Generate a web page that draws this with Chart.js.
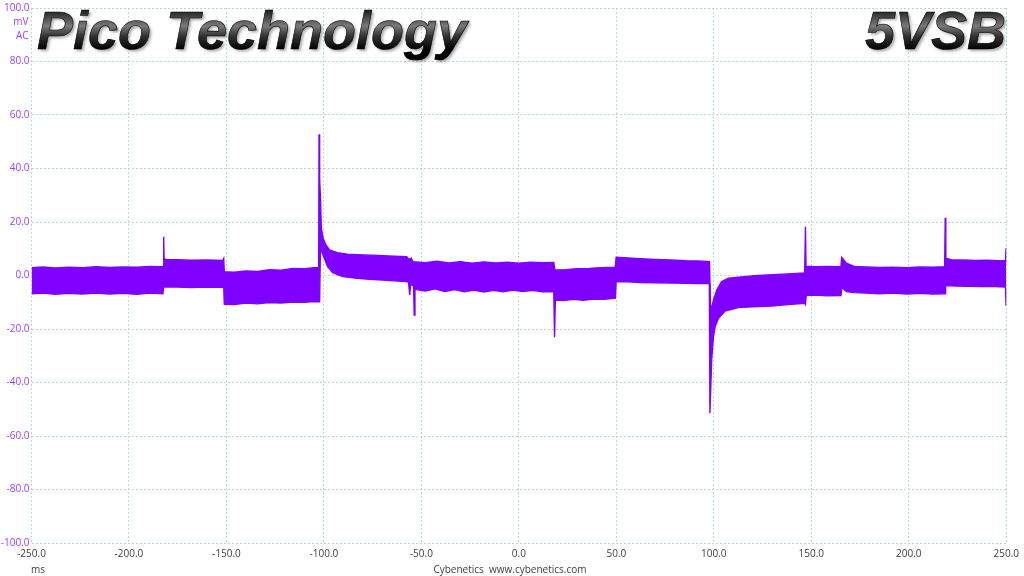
<!DOCTYPE html>
<html><head><meta charset="utf-8">
<script src="https://cdn.jsdelivr.net/npm/chart.js@4/dist/chart.umd.min.js"></script>
<style>html,body{margin:0;padding:0;background:#fff;overflow:hidden}canvas{display:block}</style>
</head><body>
<canvas id="c" width="1024" height="576"></canvas>
<script>
// ---- data (time in ms, voltage ripple in mV) ----
const upperTime = [-250,-244,-238,-231,-224,-217,-210,-203,-196,-189,-183.0,-182.4,-182.2,-182.0,-181.6,-175,-168,-160,-152.0,-151.4,-151.1,-146,-140,-134,-128,-122,-116,-110,-105,-102.7,-102.5,-102.2,-101.8,-101.3,-100.4,-99.0,-97.0,-93.0,-88.0,-80.0,-72,-64,-57.5,-56.5,-55.2,-54.4,-48,-42,-36,-30,-24,-18,-12,-6,0,6,12,17.9,18.5,24,30,36,42,49.4,49.9,56,62,70,78,86,92,97.8,98.3,99.8,101.5,104.0,107.5,114,121,130,138,146.6,147.0,147.3,152,158,165.2,165.6,168,172,178,185,192,199,206,212,218.4,218.7,219.0,222,228,234,240,246,249.6,249.9,250];
const upperMv = [2.9,3.2,2.8,3.1,2.9,3.3,3.0,3.2,3.1,3.4,3.3,3.5,14.5,6.5,6.0,5.9,5.7,5.8,5.6,6.4,1.4,1.2,1.7,1.5,2.2,2.0,2.6,2.5,2.9,2.9,52.8,36.0,29.5,17.6,13.9,11.4,9.5,8.5,8.0,7.7,7.5,7.2,7.0,6.0,6.5,5.2,4.8,5.3,4.7,5.2,4.6,5.1,4.7,5.0,4.6,5.0,4.8,4.9,2.1,2.2,2.5,2.6,2.9,3.1,6.8,6.6,6.3,6.0,5.8,5.5,5.4,5.2,-13.5,-9.2,-5.4,-2.3,-1.0,-0.5,-0.1,0.3,0.6,1.0,18.2,3.5,3.3,3.4,3.3,6.8,4.6,3.4,3.2,3.0,3.1,2.9,3.2,3.1,3.3,21.6,6.5,5.8,5.8,5.6,5.7,5.5,5.5,10.2,4.0];
const lowerTime = [-250,-244,-238,-231,-224,-217,-210,-203,-196,-189,-182.6,-182.2,-175,-168,-160,-151.4,-151.1,-146,-140,-134,-128,-122,-116,-110,-105,-102.2,-101.8,-99.8,-98.1,-95.5,-90.4,-84,-78.5,-70,-64,-58,-56.6,-56.0,-55.5,-54.0,-53.7,-53.3,-48,-43,-38,-33,-28,-23,-18,-13,-8,-3,2,7,12,17.9,18.3,18.7,23,28,33,38,44,49.5,49.9,56,62,70,78,86,92,97.7,98.0,98.9,99.8,100.7,102.4,105.8,112.6,120,129.6,138,146.7,147.0,147.4,152,158,165.2,165.7,168,172,178,185,192,199,206,212,218.6,218.9,224,230,236,242,249.6,249.9,250];
const lowerMv = [-6.8,-6.6,-7.0,-6.7,-6.9,-6.6,-6.9,-6.7,-7.0,-6.6,-6.8,-4.2,-4.3,-4.5,-4.3,-4.4,-10.8,-10.9,-10.3,-10.6,-10.1,-10.3,-9.9,-10.0,-9.7,-9.8,10.2,6.4,3.3,1.1,-0.4,-1.0,-1.3,-1.7,-2.0,-2.3,-2.5,-7.3,-3.2,-4.0,-14.8,-5.2,-5.8,-5.0,-6.0,-5.3,-6.1,-5.4,-6.2,-5.5,-6.1,-5.4,-6.0,-5.5,-6.1,-6.0,-23.1,-9.2,-9.4,-8.9,-9.3,-8.8,-8.9,-8.5,-2.3,-2.4,-2.6,-2.7,-2.8,-2.9,-3.0,-3.0,-51.5,-31.6,-22.9,-19.1,-16.0,-13.3,-12.0,-11.7,-11.4,-10.9,-10.4,-10.8,-7.5,-7.3,-7.6,-7.5,-4.5,-6.0,-6.4,-6.6,-6.8,-6.6,-6.9,-6.7,-6.9,-6.8,-3.8,-3.9,-4.0,-4.1,-4.0,-4.3,-11.0,-5.0];
const xTickValues = [-250,-200,-150,-100,-50,0,50,100,150,200,250];
const yTickValues = [-100,-80,-60,-40,-20,0,20,40,60,80,100];
const titleLeft = 'Pico Technology';
const titleRight = '5VSB';
const yUnitLines = ['mV','AC'];
const xUnit = 'ms';
const creditText = 'Cybenetics  www.cybenetics.com';

// ---- styling ----
const PURPLE = '#8000ff';
const TICK_PURPLE = '#9b40ff';
const GRID = '#b2dbe4';
const FONT = "'Open Sans', 'Noto Sans', sans-serif";

const upperPts = upperTime.map((t, i) => ({x: t, y: upperMv[i]}));
const lowerPts = lowerTime.map((t, i) => ({x: t, y: lowerMv[i]}));

const textPlugin = {
  id: 'texts',
  afterDraw(chart) {
    const ctx = chart.ctx;
    ctx.save();
    ctx.font = "italic bold 54px 'Liberation Sans', Arial, sans-serif";
    ctx.textBaseline = 'alphabetic';
    const drawTitle = (txt, x, align) => {
      ctx.textAlign = align;
      ctx.save();
      ctx.shadowColor = 'rgba(0,0,0,0.35)';
      ctx.shadowOffsetX = 2;
      ctx.shadowOffsetY = 2;
      ctx.shadowBlur = 3;
      const g = ctx.createLinearGradient(0, 10, 0, 50);
      g.addColorStop(0, '#1e1e1e');
      g.addColorStop(0.4, '#7a7a7a');
      g.addColorStop(0.65, '#333');
      g.addColorStop(1, '#000');
      ctx.fillStyle = g;
      ctx.fillText(txt, x, 49);
      ctx.restore();
      ctx.lineWidth = 0.6;
      ctx.strokeStyle = '#000';
      ctx.strokeText(txt, x, 49);
    };
    drawTitle(titleLeft, 37, 'left');
    drawTitle(titleRight, 1006, 'right');
    ctx.font = '10px ' + FONT;
    ctx.textBaseline = 'middle';
    ctx.fillStyle = TICK_PURPLE;
    ctx.textAlign = 'right';
    ctx.fillText(yUnitLines[0], 28.5, 22.5);
    ctx.fillText(yUnitLines[1], 28.5, 36.5);
    ctx.fillStyle = '#404040';
    ctx.textAlign = 'center';
    ctx.fillText(xUnit, 38, 570);
    ctx.fillText(creditText, 510, 570);
    ctx.restore();
  }
};

new Chart(document.getElementById('c'), {
  type: 'line',
  data: {
    datasets: [
      {data: upperPts, borderColor: PURPLE, backgroundColor: PURPLE, borderWidth: 1.4, pointRadius: 0, tension: 0, fill: false},
      {data: lowerPts, borderColor: PURPLE, backgroundColor: PURPLE, borderWidth: 1.4, pointRadius: 0, tension: 0, fill: '-1'}
    ]
  },
  options: {
    responsive: false,
    animation: false,
    events: [],
    layout: {padding: {left: 0, top: 8, right: 15.5, bottom: 0}},
    plugins: {legend: {display: false}, tooltip: {enabled: false}},
    scales: {
      x: {
        type: 'linear', min: -250, max: 250,
        afterBuildTicks: s => { s.ticks = xTickValues.map(v => ({value: v})); },
        afterFit: s => { s.height = 33; },
        ticks: {callback: v => Number(v).toFixed(1), color: '#404040', font: {family: FONT, size: 10}, padding: 5, maxRotation: 0, autoSkip: false},
        grid: {color: GRID, lineWidth: 1, drawTicks: false},
        border: {display: false, dash: [2, 2]}
      },
      y: {
        type: 'linear', min: -100, max: 100,
        afterBuildTicks: s => { s.ticks = yTickValues.map(v => ({value: v})); },
        afterFit: s => { s.width = 31.5; },
        ticks: {callback: v => Number(v).toFixed(1), color: TICK_PURPLE, font: {family: FONT, size: 10}, padding: 2, autoSkip: false},
        grid: {color: GRID, lineWidth: 1, drawTicks: false},
        border: {display: false, dash: [2, 2]}
      }
    }
  },
  plugins: [textPlugin]
});
</script>
</body></html>
